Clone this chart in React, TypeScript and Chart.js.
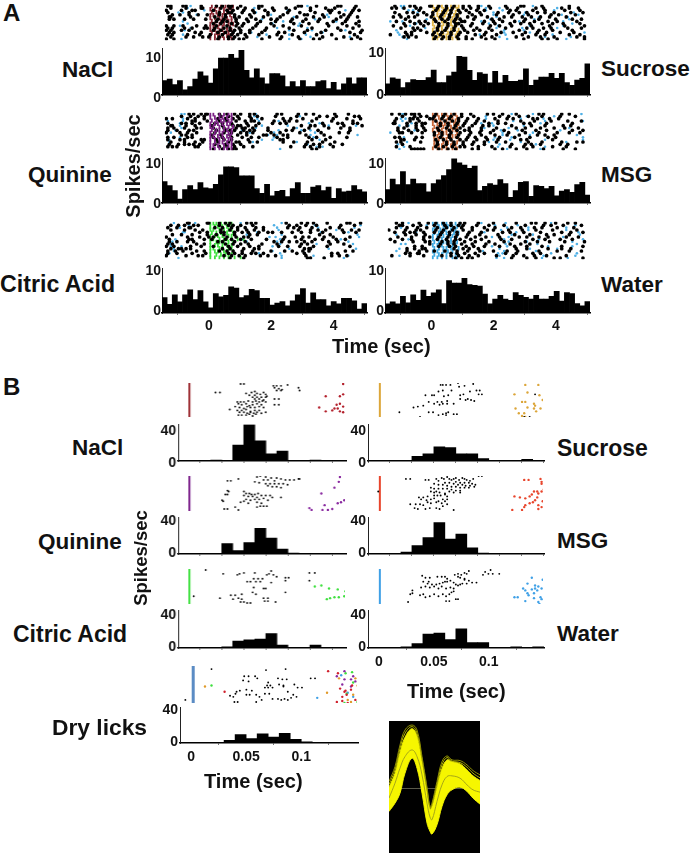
import React, { useEffect, useRef } from "react";
import { Chart, registerables } from "chart.js";

Chart.register(...registerables);

const FONT = "'Liberation Sans', Arial, sans-serif";

// ---------- Panel A histograms (spikes/sec, 40 bins from stimulus -1.5 s to 5 s) ----------
const histNaCl = [3.6,4.0,2.6,3.6,1.3,2.1,4.0,5.8,4.8,3.0,6.6,9.3,9.3,10.2,9.3,11.2,6.2,4.3,6.6,4.3,2.8,5.4,5.4,4.8,2.1,3.4,2.1,3.6,2.1,2.1,3.4,3.6,1.6,3.2,1.3,2.8,4.3,2.8,4.3,4.3];
const histQuinine = [5.4,4.4,3.1,1.0,3.4,4.4,3.4,5.1,3.8,3.6,4.7,7.1,9.1,9.1,8.9,6.8,6.8,6.8,3.6,2.4,4.7,1.8,2.9,3.2,1.6,3.6,5.1,2.4,2.4,4.0,4.4,3.1,4.0,1.2,3.6,2.8,3.0,4.4,3.4,2.8];
const histCitric = [3.9,2.2,4.6,2.8,4.6,5.9,3.4,5.7,2.8,1.3,4.9,4.1,4.5,6.6,6.3,3.9,4.4,6.0,5.7,3.7,3.7,2.0,2.5,2.9,1.8,3.1,4.6,6.2,2.5,5.1,3.4,3.4,1.8,2.9,2.3,3.7,3.7,3.1,1.0,2.4];
const histSucrose = [2.7,4.1,3.8,1.8,3.0,3.7,3.5,3.5,4.2,6.0,3.0,3.0,4.6,5.5,9.3,9.1,5.9,3.5,5.4,5.0,2.9,5.7,2.9,4.7,3.3,3.3,3.6,6.3,2.3,3.6,4.3,4.3,5.2,4.0,5.2,3.0,2.3,3.6,4.0,7.5];
const histMSG = [3.4,6.0,4.6,7.9,4.6,6.0,4.9,4.9,2.8,4.9,5.8,6.9,8.4,11.2,10.1,9.5,8.7,9.3,3.1,4.2,4.9,4.5,5.9,4.9,1.4,3.1,5.2,5.4,1.7,4.4,4.2,3.6,4.2,1.8,3.0,3.4,2.7,4.6,5.2,2.0];
const histWater = [2.3,2.8,2.3,4.2,2.6,4.6,3.2,5.8,4.2,5.1,5.9,2.4,8.2,7.6,7.6,8.8,7.2,7.0,6.8,4.8,2.3,3.5,4.5,3.5,3.2,5.2,4.5,4.0,3.5,4.5,3.5,3.5,4.2,5.5,3.0,5.2,4.9,2.4,1.8,2.9];

// ---------- Panel B histograms (spikes/sec, 10 ms bins from -10 ms) ----------
const peNaCl = [0,0,0,1.2,0,20,46,25.5,9,12.5,0,0,1.2,0,0,0];
const peQuinine = [0,0,0,0,13,4.3,14.5,32.5,20,6.3,1.2,0,0,0,0,0];
const peCitric = [0,0,0,0,1.5,8.6,10.2,11,18,3.5,0,0,3.5,0,0,0];
const peDry = [0,0,0,0,3.5,10.5,5.5,11.4,7.4,12.1,4.7,1.5,0,0,0,0];
const peSucrose = [0,0,0,0,5.9,9,18,16.8,9,9,3.2,0,0,0,2,0];
const peMSG = [0,0,0,2.4,10.6,20.8,39.6,18.8,25,7.9,1.2,0,0,0,0,0];
const peWater = [0,0,0,1.5,5.5,17.3,18.5,10.6,23.9,6.7,6.7,0,0,1.5,0,1.5];

const yTicksA = [0, 10];
const yTicksB = [0, 40];
const xTicksA = [0, 2, 4];
const xTicksBMinor = [0, 0.02, 0.04, 0.06, 0.08, 0.1, 0.12, 0.14];
const xTicksB = [0, 0.05, 0.1];

// order in which the listed trials appear from the top of each raster
const trialOrder = [0,4,2,6,1,5,3,7,8,12,10,14,9,13,11,15];

// ---------- Panel A rasters: one list of spike times (sec) per trial ----------
const rastNaCl = [
[-1.4,-1.3,-.9,-.8,-.3,.2,.4,.6,.7,1.0,1.6,1.7,2.9,3.0,3.5,4.2,4.3,4.8],
[-1.25,-1.0,-.7,-.4,-.1,.3,.5,.8,1.3,1.9,2.4,3.1,3.2,3.7,4.4,4.6],
[-1.45,-.95,-.6,-.5,.1,.55,.75,1.1,1.4,1.8,2.1,2.6,3.3,3.9,4.0,4.7,4.9],
[-1.35,-1.2,-.85,-.55,-.15,.25,.45,.85,1.2,1.5,2.0,2.2,2.7,3.15,3.6,4.15,4.5],
[-1.3,-.8,-.3,-.25,.35,.65,.9,1.15,1.6,2.05,2.5,2.8,3.3,3.8,4.1,4.75],
[-1.35,-1.3,-.65,.15,.5,.8,.95,1.35,1.75,2.3,2.85,3.4,3.75,4.3,4.55,4.85],
[-1.4,-.7,.3,.6,.7,1.05,1.45,1.9,2.55,2.95,3.45,3.95,4.25,4.65],
[.2,.4,.55,.85,1.25,1.65,2.15,2.65,3.05,3.55,4.05,4.45,4.9],
[.1,.35,.7,.9,1.1,1.55,2.0,2.75,3.25,3.85,4.35,4.8],
[-1.35,-1.2,-.5,-.3,.25,.5,.75,1.0,1.3,1.7,2.25,2.45,3.1,3.65,4.6,4.95],
[-1.4,-1.25,-.85,-.6,-.2,-.1,.15,.45,.65,.95,1.4,1.85,2.6,3.35,4.2,4.7],
[-1.3,-.8,-.55,-.25,-.05,.3,.6,.8,1.2,1.95,2.35,2.9,3.7,4.4,4.85],
[-1.45,-1.2,-.9,-.45,-.15,.2,.55,.85,1.05,1.5,2.1,2.4,3.0,3.9,4.5,4.9],
[-1.4,-1.25,-.75,-.35,0,.4,.7,.9,1.15,1.6,2.2,2.7,3.5,4.0,4.75],
[-1.45,-1.3,-.95,-.7,.1,.35,.65,.8,1.0,1.3,1.8,2.75,3.2,3.8,4.3,5.0],
[-1.45,-1.2,.25,.6,.75,.95,1.1,1.7,2.3,2.95,3.4,3.6,4.15,4.65,4.95],
];
const blueNaCl = [[-.65,1.6,3.2],[-.45,2.0,3.85],[-.2,2.55,4.45],[1.7,3.45],[-.75,1.45],[2.75,3.9],[-1.05,-.9,1.5],[-.9,1.25,2.4,4.15],[-.75,2.05,2.95],[1.35,3.7],[-.65,2.2,3.2],[1.55,3.3,4.6],[-1.0,2.9],[-.9,1.85,2.6,3.15],[-.85,2.6,3.35,4.45],[-.95,2.6,3.0]];
const lickNaCl = [[.05,.2,.35,.5,.6,.75],[0,.15,.3,.45,.6,.7],[.05,.2,.3,.45,.55,.7],[0,.1,.25,.4,.5,.65],[0,.15,.3,.4,.55,.7],[.05,.2,.35,.45,.6,.7],[0,.15,.3,.45,.6,.75],[0,.1,.25,.4,.55,.65],[0,.15,.3,.4,.55,.7],[.05,.2,.3,.45,.6,.75],[0,.15,.25,.4,.55,.65],[0,.15,.3,.45,.6,.7]];

const rastQuinine = [
[-.7,-.55,-.3,-.15,-.1,.3,.55,.8,1.0,1.3,1.45,2.2,2.35,2.9,3.15,3.4,4.1,4.55],
[-1.4,-.95,-.8,-.6,-.35,.15,.4,.7,1.2,1.6,2.05,2.3,2.5,3.7,4.2,4.35,4.7,4.85],
[-1.45,-1.25,-.75,-.5,-.2,.25,.5,.75,.95,1.35,1.7,2.4,2.65,3.05,3.5,4.05,4.5,4.95],
[-1.4,-1.2,-.85,-.45,-.3,.1,.45,.85,1.05,1.15,1.4,1.9,2.75,3.25,3.9,4.3,4.6],
[-.95,-.65,-.4,-.2,.35,.6,.9,1.3,1.55,2.15,2.85,3.6,3.85,4.15,4.75,4.9],
[-1.3,-1.25,-.8,-.5,.05,.4,.75,.9,1.0,1.25,1.5,3.0,3.3,3.45,3.75,4.4,5.0],
[-.6,-.5,-.1,.3,.55,.85,1.15,1.35,1.45,2.1,2.45,2.6,2.85,3.35,4.0,4.7],
[-1.4,-1.1,-.7,-.55,.2,.5,.65,.8,1.1,1.3,1.45,1.9,2.5,2.7,3.1,3.55,4.6],
[-1.45,-1.0,-.75,-.45,.15,.45,.7,1.0,1.2,1.4,2.0,2.3,2.95,3.65,4.25,4.55],
[-1.3,-.85,-.5,-.25,.25,.6,.85,.95,1.3,1.55,2.4,2.75,3.2,3.7,4.1],
[-1.4,-1.2,-.75,-.6,.1,.4,.7,1.05,1.35,1.6,2.2,2.55,3.25,3.5,3.95,4.5],
[-1.4,-1.25,-1.1,-.5,-.4,.3,.55,.8,1.1,1.4,2.65,3.1,3.3,3.6,4.05],
[-.95,-.8,-.6,.05,.35,.65,.9,1.2,1.75,1.85,2.1,2.4,2.55,3.15,3.75],
[-1.35,-1.05,-.85,-.7,-.55,-.35,.15,.5,.75,1.0,3.15,3.4,3.6,3.95,4.35],
[-1.4,-1.0,-.85,-.3,-.2,.2,.45,.7,1.25,2.3,2.4,3.35,3.8],
[.1,.4,.6,.75,.85,3.35,3.5],
];
const blueQuinine = [[-.95,-.85,1.5],[-1.0,1.6,3.25,3.6],[-.9,1.55,2.4],[-.95,1.5,2.85],[1.45,2.95],[-1.0,1.7,2.55,3.9,4.8],[-1.4,-.9,1.6,2.25],[-1.15,1.05,2.25,3.0,3.3],[-1.3,1.3,2.1,3.45],[-1.35,1.4,2.85],[-1.0,2.1,3.4],[3.5,3.7],[1.9,2.2,3.3,4.85],[3.2],[-1.35,1.7,2.05,3.6],[2.3]];
const lickQuinine = [[0,.1,.3,.45,.6,.7],[0,.15,.3,.4,.55,.7],[.05,.2,.35,.45,.6,.7],[0,.15,.25,.4,.55,.65],[0,.1,.3,.45,.6,.75],[.05,.2,.3,.45,.55,.7],[0,.15,.3,.4,.6,.7],[0,.1,.25,.4,.55,.65],[0,.15,.3,.45,.6,.7],[0,.15,.3,.4,.55,.7],[0,.1,.25,.45,.6,.7],[0,.15,.3,.45,.55,.7]];

const rastCitric = [
[-.75,-.7,-.1,-.05,.3,.5,.65,1.2,1.35,1.5,2.5,3.0,3.2,3.4,3.85,4.5,4.6,4.95],
[-.35,-.1,.35,.45,.8,1.05,1.25,1.6,1.9,2.05,2.35,2.7,3.0,3.3,3.7,4.4,4.8],
[-1.4,-1.1,-.7,-.65,.15,.4,.7,.9,1.15,1.5,1.75,2.55,2.75,2.95,3.35,3.95,4.25],
[-1.45,-.75,-.35,-.05,.1,.55,.85,1.1,1.25,2.45,2.8,3.05,3.25,3.75,4.05,4.6],
[-1.3,-1.05,-.85,-.55,-.4,.3,.6,.75,1.0,1.4,2.6,2.85,3.15,3.5,4.3,4.75],
[-1.25,-.95,-.6,-.1,.2,.45,.8,1.3,1.55,3.6,3.95],
[-1.3,-.85,-.5,-.25,.35,.65,.9,1.2,1.45,1.75,2.9,3.3,3.55,3.8,4.35,4.65,4.9],
[-1.35,-.7,-.6,-.2,.05,.5,.7,1.0,1.35,1.85,2.4,3.0,3.45,3.7,4.15,4.45],
[-1.35,-1.1,-.75,-.55,.25,.4,.8,1.15,2.1,2.35,2.6,2.85,3.1,3.35,3.9,4.2],
[-1.4,-1.15,-.9,-.45,-.2,.3,.55,.75,1.05,1.4,2.0,2.45,2.7,3.05,3.25,4.45,4.7],
[-1.45,-1.2,-.65,-.3,.1,.6,.9,1.3,1.6,2.25,2.55,2.95,3.4,3.85,4.6],
[-1.45,-.8,-.4,-.25,.45,.7,.95,1.15,1.65,1.9,2.15,3.15,4.0,4.25,4.5],
[-1.4,-1.25,-.45,-.2,.5,.75,1.0,1.25,1.7,2.2,3.0,3.2,3.95,4.4],
[-1.4,-1.1,-.6,-.15,.6,.8,1.05,1.35,1.5,1.75,2.85,3.1,4.0,4.2],
[-1.3,-1.05,-.95,-.8,-.65,.4,.65,1.1,1.45,1.6,3.1,3.25,3.3],
[.65,1.1,3.2,3.3,3.75],
];
const blueCitric = [[-1.2,-.5,1.0,2.35],[-.9,-.85,1.55,3.65,4.55],[-1.0,2.2,3.55,4.75],[1.95,2.15,4.9],[-.7,2.1,3.45,4.95],[1.2,2.35,4.85],[2.25,4.15],[-1.15,1.05,2.3,4.3],[-1.25,1.2,2.2,4.55],[-1.2,2.05],[-1.3,-.95,2.05],[2.35,3.4,4.55],[-1.3,2.3,3.5,4.7],[-1.35,1.6,2.3],[-1.2,2.6,3.9,4.8],[-1.05,2.35,3.75,4.4]];
const lickCitric = [[0,.1,.2,.35,.5,.6,.7],[0,.15,.25,.4,.55,.7],[0,.1,.3,.45,.6,.7],[.05,.2,.35,.45,.55,.75],[0,.15,.25,.4,.6,.7],[0,.1,.3,.45,.55,.7,.9,1.1],[0,.2,.3,.45,.6,.75],[0,.15,.25,.4,.55,.7],[0,.1,.3,.4,.6,.7],[0,.15,.25,.45,.55,.75],[0,.2,.35,.5,.6,.7],[0,.15,.3,.45,.6,.8,1.0]];

const rastSucrose = [
[-1.25,-.75,-.6,-.1,-.05,.2,.45,.7,1.0,1.2,1.5,1.85,2.4,2.9,3.0,3.6,4.5],
[-1.1,-.5,-.2,0,.3,.55,.8,1.3,1.6,2.1,2.65,3.15,3.9,4.15,4.7],
[-.45,.1,.4,.6,.85,1.1,1.45,1.7,2.55,2.75,3.3,3.7,4.35,4.85],
[-.9,.05,.3,.5,.75,.9,1.35,1.95,2.2,3.05,3.5,4.05,4.6,4.9],
[-1.35,-1.2,-.95,-.55,-.4,.15,.45,.65,1.0,1.25,1.5,1.9,2.45,2.8,3.4,3.65,4.25,4.5,4.8],
[-1.3,-1.05,-.8,-.6,-.05,.25,.55,.8,1.15,1.4,1.8,2.35,2.6,2.95,3.25,3.55,3.85,4.4],
[-1.25,-.85,-.65,-.3,0,.35,.6,.9,1.2,1.55,2.15,2.5,2.85,3.1,3.45,3.7,4.0,4.55,4.95],
[-1.2,-.75,-.45,-.25,.1,.4,.7,.95,1.05,1.7,2.0,2.3,2.7,3.0,3.35,3.8,4.1,4.75],
[-.95,-.6,-.4,-.15,.2,.5,.75,.85,1.3,1.65,2.05,2.55,2.9,3.2,3.6,3.95,4.3,4.85],
[-.9,-.7,-.2,.05,.3,.6,.9,1.15,1.75,2.25,2.65,3.05,3.45,3.75,4.2,4.65],
[-1.05,-.65,-.5,.15,.45,.7,1.0,1.45,1.85,2.4,3.1,3.3,3.65,3.9,4.45,4.9],
[-.95,-.8,-.55,.1,.35,.55,.8,1.1,1.6,1.95,2.75,3.15,3.55,4.0,4.75,5.0],
[-1.3,-.9,-.3,.2,.5,.75,.95,1.25,1.9,2.2,2.6,3.25,3.85,4.35,5.0],
[-1.4,-.85,-.7,.0,.25,.6,.85,1.4,1.7,2.1,2.95,3.4,3.7,4.5,4.85],
[-.6,-.4,.15,.4,.7,1.05,1.35,1.55,1.95,2.85,3.5,3.95,4.6],
[.05,.3,.55,.85,1.1,1.3,1.75,2.05,3.0,3.6,3.8,4.1,5.0],
];
const blueSucrose = [[-1.05,-.95,1.6,3.3],[2.0,3.0,4.25,4.8],[-.8,-.65,1.75,2.3,4.0],[-.2,1.9,3.35,4.5],[-1.0,1.75,2.2,4.1],[2.1,3.5,4.45],[-.5,2.0,3.05,4.65],[-1.4,-1.0,1.6,2.85,4.3],[-.55,1.85,3.6,4.6],[-1.15,2.35,3.2,5.0],[-.25,2.1,2.95,4.1],[-1.0,2.2,3.7,4.55],[-.75,2.15,3.2,4.3],[-1.1,1.55,2.4,3.95],[-1.2,2.35,3.0],[-.85,2.45,4.4]];
const lickSucrose = [[0,.15,.3,.45,.6,.75,.85],[.05,.2,.35,.5,.65,.8],[0,.15,.3,.45,.6,.75],[0,.15,.25,.4,.55,.7,.85],[.05,.2,.35,.5,.65,.8],[0,.1,.3,.45,.6,.75],[0,.2,.35,.45,.6,.8],[.05,.15,.3,.5,.65,.75],[0,.2,.3,.45,.6,.85],[0,.15,.35,.5,.65,.8],[.05,.2,.3,.45,.6,.75],[0,.15,.3,.45,.65,.8]];

const rastMSG = [
[-1.35,-1.1,-.9,-.7,-.6,-.45,.1,.4,.7,.95,1.25,1.8,2.0,2.3,2.75,3.5,3.65,4.25,4.5],
[-1.3,-1.25,-.85,-.55,-.35,-.25,.25,.5,.8,1.05,1.4,1.85,2.15,2.4,3.0,3.2,3.75,4.6],
[-1.2,-.75,-.65,-.5,-.1,0,.3,.55,.85,1.15,1.5,2.05,2.45,2.65,3.3,3.45,3.85,4.15],
[-1.15,-.95,-.55,-.3,.15,.45,.7,.9,1.2,1.6,2.1,2.75,3.05,3.55,4.0,4.35,4.8],
[-1.0,-.6,-.4,-.2,.05,.35,.6,.95,1.35,2.2,2.5,2.85,3.15,3.6,4.2,4.7],
[-.85,-.55,-.35,.25,.5,.75,1.0,1.3,1.65,1.85,2.6,3.25,3.7,4.3,4.55],
[-1.25,-.75,-.45,.1,.4,.65,.85,1.1,1.45,1.7,2.15,2.9,3.35,3.9,4.45,4.9],
[-1.15,-.8,-.5,-.25,.2,.55,.8,1.05,1.2,1.6,2.0,2.35,2.95,3.4,3.75,4.6,4.95],
[-1.1,-1.0,-.7,-.35,.05,.3,.6,.9,1.25,1.55,1.9,2.5,3.05,3.5,4.1,4.5,4.85],
[-1.2,-1.05,-.4,.15,.45,.7,1.0,1.35,1.7,2.1,2.4,3.15,3.6,4.25,4.75,4.95],
[-1.25,-1.1,-.55,-.35,.25,.55,.8,1.15,1.4,1.75,2.2,2.7,3.2,3.8,4.05],
[-1.2,-.75,.1,.35,.65,.9,1.05,1.5,1.95,2.55,3.0,3.3,3.95,4.4],
[.05,.3,.55,.85,1.2,1.6,2.05,2.45,2.85,3.45,3.7,4.0],
[-1.0,.15,.45,.7,1.0,1.3,1.7,2.6,3.05,3.25,3.55,4.2,4.45],
[-1.05,-.95,-.6,.1,.35,.6,.9,1.1,1.45,1.8,2.15,2.9,3.1,3.95],
[-.7,-.6,-.5,-.4,-.3,.2,.5,.75,1.3,1.5,2.05,2.3,2.75,3.1,3.65,4.3,4.7],
];
const blueMSG = [[-1.0,-.95,1.8,2.6,3.3,4.9],[-.7,1.6,1.95,3.55],[-1.05,-.9,1.75,2.9,3.65],[-.95,1.7,2.5,4.5],[1.75,3.1,4.0],[-1.1,-.8,2.0,3.0],[-1.0,2.65,3.7,4.95],[-.6,2.25,2.8,4.2],[-1.4,2.3,3.3,4.1],[-.85,1.85,2.9,4.4],[-.95,2.05,2.6,4.95],[-.95,2.15,3.7],[2.3,3.2,4.75],[-1.15,2.2,3.4],[2.0,2.55,3.7,4.95],[-1.1,2.45,3.55]];
const lickMSG = [[0,.15,.3,.45,.6,.75],[.05,.2,.35,.5,.65,.8],[0,.1,.25,.45,.6,.75],[0,.15,.3,.4,.55,.7,.85],[.05,.2,.35,.5,.6,.8],[0,.15,.3,.45,.65,.75],[.05,.2,.35,.45,.6,.8],[.05,.15,.3,.5,.65,.75],[.05,.2,.35,.45,.6,.85],[.05,.15,.35,.5,.65,.8],[.05,.2,.3,.45,.6,.75],[0,.15,.3,.45,.65,.8]];

const rastWater = [
[-1.2,-1.0,-.45,-.15,.1,.35,.6,.9,1.05,1.5,2.0,2.75,3.25,3.4,3.7,4.05,4.45,4.7],
[-1.25,-.95,-.75,-.6,-.3,.05,.3,.55,.8,1.2,1.6,2.3,2.55,3.0,3.55,4.25,4.55,4.95],
[-1.2,-.85,-.5,-.2,.15,.45,.7,.95,1.3,1.7,2.05,2.6,2.9,3.35,3.6,4.1,4.65],
[-1.15,-.7,-.3,-.1,.2,.5,.75,1.1,1.4,1.75,2.2,2.85,3.1,3.5,3.8,4.4,4.8],
[-1.1,-1.0,-.65,-.4,.05,.4,.6,.85,1.0,1.45,1.85,2.35,3.05,3.65,3.9,4.3,4.9],
[-.9,-.55,-.25,.25,.55,.8,1.15,1.55,2.15,2.7,3.2,3.75,4.0,4.5],
[-1.45,-.9,-.55,-.4,.1,.35,.65,1.0,1.3,1.8,2.0,2.5,2.95,3.4,3.95,4.75],
[-1.4,-1.0,-.7,-.3,.15,.45,.75,.9,1.25,1.6,2.25,2.6,3.3,3.7,4.2,4.6],
[-1.25,-.65,-.25,-.1,.3,.5,.7,1.05,1.4,1.85,2.35,3.05,3.45,3.85,4.35,5.0],
[-.85,-.45,-.2,.05,.4,.8,1.15,1.55,2.0,2.45,2.8,3.5,4.1,4.5,4.9],
[-.6,-.35,.2,.55,.75,1.1,1.35,1.7,2.2,2.7,3.1,3.6,4.25,4.95],
[-1.35,-.75,-.3,.3,.6,.85,1.2,1.5,2.1,2.65,3.0,3.35,3.75,4.4],
[-.1,.25,.5,.7,.95,1.3,1.75,2.05,2.55,2.9,3.2],
[-.9,-.75,-.5,-.45,.6,.8,1.05,1.4,1.7,2.4,2.75,3.3,3.55],
[-.85,-.6,-.35,-.25,.7,1.0,1.2,1.5,2.75,3.1,3.8,4.25,4.55],
[.75,.95,1.15,1.3,2.6,3.1,3.4,4.0,4.2,4.95],
];
const blueWater = [[-1.0,-.8,1.6,2.4,3.9],[-.55,1.7,2.75,4.8],[-1.05,2.45,3.15,4.4],[1.95,2.5,4.3],[-.2,2.05,2.8,4.7],[-1.2,2.6,3.3,4.85],[2.25,3.15,4.4],[-.8,2.35,3.5,4.95],[2.5,3.1,4.6],[-1.2,1.65,2.35,3.4],[1.95,2.45,3.8,4.6],[-1.1,2.2,3.65,4.7],[-1.05,-.9,2.4,3.45,4.75],[2.15,2.3,3.9,4.75],[-1.1,2.2,3.2,4.1],[2.1,2.35,3.6,4.45]];
const lickWater = [[0,.15,.3,.45,.6,.75,.9],[.05,.2,.35,.5,.65,.8],[0,.1,.25,.4,.6,.75],[.05,.2,.3,.45,.55,.7,.85],[0,.15,.35,.5,.65,.8],[0,.15,.3,.45,.6,.75],[.05,.2,.35,.45,.6,.8],[0,.15,.3,.5,.65,.75],[.05,.2,.35,.45,.6,.85],[0,.15,.35,.5,.65,.8],[.05,.2,.3,.45,.6,.75],[0,.15,.3,.45,.65,.8]];

// ---------- Panel B rasters: [time in ms, lick number] ----------
const bNaClBlack = [[47,1],[50,1],[24,10],[28,10],[77,3],[80,3],[84,3],[90,2],[78,5],[82,6],[85,7],[80,8],[84,8],[100,5],[101,8],[78,17],[82,17],[78,23],[82,23],[57,10],[60,9],[52,11],[55,13],[60,13],[62,11],[65,12],[68,10],[70,12],[58,15],[62,15],[66,15],[70,15],[60,17],[64,17],[68,18],[71,14],[44,20],[47,20],[50,20],[54,19],[58,20],[61,19],[64,20],[67,19],[70,20],[45,22],[48,23],[52,22],[55,24],[58,23],[62,22],[66,23],[42,25],[46,26],[50,27],[53,25],[56,26],[60,26],[64,25],[68,26],[37,28],[44,29],[48,29],[52,28],[56,30],[60,29],[64,29],[46,31],[50,31],[53,32],[56,31],[59,32],[62,31],[66,32],[70,31],[45,34],[48,34],[52,34],[55,33],[58,35],[61,33]];
const bNaClColor = [[141,1],[147,2],[147,5],[144,8],[149,11],[141,12],[138,14],[125,14],[144,21],[147,20],[148,21],[138,22],[135,23],[133,27],[141,25],[147,26],[131,29],[138,30],[125,30],[119,26],[141,31],[147,31],[149,29],[136,27],[144,28]];
const bQuinineBlack = [[35,5],[38,5],[45,3],[62,1],[65,0],[70,1],[75,2],[80,2],[68,4],[72,4],[78,5],[84,3],[88,4],[92,4],[96,4],[60,6],[64,7],[70,8],[74,8],[78,8],[82,8],[86,8],[90,9],[72,10],[76,11],[80,11],[84,12],[100,3],[101,3],[35,15],[36,16],[33,19],[35,19],[30,25],[31,26],[32,34],[35,34],[42,32],[45,35],[50,16],[52,18],[55,18],[57,19],[60,19],[63,18],[50,20],[54,21],[58,21],[62,22],[66,20],[70,20],[74,20],[52,24],[56,25],[60,24],[64,24],[68,23],[72,25],[76,22],[84,22],[54,28],[62,27],[66,28],[62,32],[65,31],[68,31],[71,31],[47,27],[50,26]];
const bQuinineColor = [[110,33],[112,35],[122,35],[127,35],[131,34],[124,30],[136,28],[139,27],[142,25],[148,25],[149,29],[121,18],[145,17],[146,20],[147,22],[133,12],[138,1],[145,1],[150,2],[137,6]];
const bCitricBlack = [[15,1],[31,5],[44,6],[46,5],[50,4],[60,4],[71,6],[73,5],[75,2],[77,6],[80,8],[59,10],[63,10],[67,10],[53,13],[56,13],[61,13],[65,13],[75,14],[88,9],[91,9],[88,12],[59,19],[68,20],[70,20],[4,28],[28,30],[38,27],[42,27],[48,26],[40,31],[45,30],[48,31],[47,34],[50,34],[53,35],[56,35],[58,24],[61,26],[68,30],[72,30],[69,33],[72,33],[79,34],[88,24],[110,4],[115,4],[110,12]];
const bCitricColor = [[146,2],[149,6],[115,18],[121,17],[128,20],[136,21],[148,19],[143,23],[145,25],[142,28],[137,29],[133,29],[129,30],[126,31]];
const bDryBlack = [[-6,33],[18,3],[68,4],[86,3],[48,10],[52,10],[47,14],[52,15],[58,10],[60,12],[79,12],[83,13],[87,13],[80,18],[84,19],[109,12],[113,12],[70,16],[69,19],[72,19],[67,21],[70,21],[74,21],[94,18],[97,21],[101,21],[41,25],[44,24],[50,23],[55,24],[35,29],[38,30],[40,27],[59,28],[62,30],[67,27],[71,27],[84,20],[88,25],[93,28],[96,30],[39,35],[42,35],[59,35],[64,33],[74,32],[79,32],[82,33],[85,32],[88,33],[91,31],[53,28],[50,28]];
const bDryRed = [[125,5],[134,7],[136,22],[140,25],[147,19],[138,34],[143,36],[150,33],[138,30],[142,28],[146,23],[133,35],[141,24],[30,25]];
const bDryPurple = [[140,5],[148,10],[146,13],[133,10],[140,13],[150,15],[138,18],[146,20]];
const bDryOrange = [[135,12],[150,12],[152,19],[148,28],[143,33],[146,35],[124,26],[12,20]];
const bDryGreen = [[147,6],[141,7],[148,16],[142,27],[152,35],[18,19],[140,36]];
const bDryBlue = [[137,9],[143,26],[115,31],[148,30]];
const bSucroseBlack = [[18,31],[37,36],[31,26],[35,25],[40,24],[42,13],[48,13],[50,13],[45,20],[50,22],[53,20],[57,20],[62,19],[45,31],[49,31],[54,34],[58,33],[61,34],[63,31],[68,33],[71,33],[56,2],[58,2],[61,2],[65,2],[72,0],[73,4],[78,3],[86,1],[54,9],[58,8],[66,8],[59,14],[63,13],[74,13],[77,12],[83,9],[89,8],[92,8],[91,12],[94,12],[68,22],[74,17],[79,18],[81,17],[84,18],[87,19],[55,23],[58,22],[62,22],[61,32],[133,36],[138,36],[143,12]];
const bSucroseColor = [[124,12],[134,2],[146,2],[136,10],[147,13],[150,18],[131,20],[134,20],[142,22],[143,24],[136,26],[142,27],[125,27],[144,30],[148,27],[128,32],[133,32],[131,35],[134,36]];
const bMSGBlack = [[-1.5,16],[24,3],[28,3],[42,4],[45,4],[52,3],[54,5],[57,2],[59,3],[62,1],[64,3],[66,4],[68,3],[70,2],[73,4],[76,2],[78,3],[80,4],[83,5],[86,3],[91,0],[94,0],[70,6],[74,7],[78,7],[82,7],[85,8],[88,9],[60,7],[64,7],[68,8],[72,9],[76,9],[79,10],[83,10],[87,11],[50,8],[54,9],[58,9],[62,10],[66,11],[70,11],[74,12],[78,12],[82,12],[47,12],[50,13],[54,13],[58,13],[62,13],[66,14],[70,15],[74,15],[47,16],[50,17],[52,16],[55,17],[60,18],[64,16],[68,17],[74,17],[36,22],[40,22],[44,21],[50,20],[53,20],[56,20],[60,19],[62,21],[38,24],[43,25],[47,24],[50,23],[54,26],[58,24],[62,24],[28,29],[33,29],[37,29],[40,30],[44,27],[47,28],[52,27],[57,28],[60,26],[32,33],[35,34],[42,34],[46,33],[52,33],[55,34],[58,31],[62,29],[68,35]];
const bMSGColor = [[122,35],[131,35],[133,32],[134,30],[138,28],[141,27],[124,21],[129,22],[134,23],[138,21],[140,19],[142,16],[145,16],[146,18],[149,16],[151,14],[149,8],[148,3],[149,6],[133,4],[137,4],[145,22],[146,30],[150,26],[149,32],[146,34],[143,25]];
const bWaterBlack = [[39,7],[42,9],[46,9],[53,8],[57,8],[60,8],[62,10],[40,13],[45,13],[60,13],[65,12],[68,14],[44,15],[48,16],[52,16],[55,15],[58,14],[62,13],[70,16],[74,16],[38,19],[42,18],[46,19],[50,18],[54,20],[57,18],[61,20],[65,19],[68,20],[72,17],[76,15],[80,15],[78,11],[72,8],[75,6],[78,4],[80,5],[82,2],[72,5],[69,6],[74,9],[78,10],[82,12],[85,14],[89,14],[95,6],[97,3],[100,5],[102,1],[104,5],[110,5],[28,26],[30,25],[30,22],[37,27],[40,26],[42,29],[46,28],[50,26],[54,28],[58,26],[61,28],[64,26],[66,24],[68,23],[61,33],[64,33],[70,31],[72,31],[26,34]];
const bWaterColor = [[124,29],[127,29],[132,20],[134,22],[136,15],[140,9],[150,11],[143,17],[146,18],[149,20],[145,22],[142,25],[137,27],[134,33],[142,30],[148,29],[149,31],[146,34],[147,36],[136,25],[140,21],[143,20]];
const lickBar = [0, 36];

// ---------- Waveform ----------
const waveT = [0,6,11,16,23,28,33,38,41,43,48,53,58,63,71,78,84,91];
const waveUpper = [232,190,128,82,56,78,155,245,298,290,232,176,150,155,162,180,198,212];
const waveLower = [305,280,250,190,145,175,250,340,365,373,345,290,255,240,232,245,265,283];
const waveMean = [265,220,175,140,120,140,195,280,322,330,275,225,200,198,205,225,240,247];
const waveOuter = [215,170,105,60,45,60,140,232,290,280,215,155,138,150,152,165,182,195];
const waveStrand = [224,180,116,70,50,70,148,238,294,286,224,165,143,154,158,172,190,204];
const waveZero = [236, 236];

const blackDot = "#000";
const blueDot = "#4fb0e6";

const rowsToPoints = (rows: number[][]) => rows.flatMap((r, i) => r.map((x) => ({ x, y: i })));
const orderedPoints = (rows: number[][]) => trialOrder.flatMap((t, i) => rows[t].map((x) => ({ x, y: i })));
const pairsToPoints = (pairs: number[][]) => pairs.map(([x, y]) => ({ x, y }));

const LW = 34, BH = 24, PT = 8, PR = 4;

function histConfig(values: number[], start: number, bin: number, min: number, max: number, top: number, yTicks: number[], xTicks: number[], xLabels: boolean, labelOffset: number, xPad: number, fmt: (v: number) => string, yPad: number) {
  return {
    type: "bar",
    data: {
      datasets: [{
        data: values.map((y, i) => ({ x: start + (i + 0.5) * bin, y })),
        backgroundColor: "#000", borderWidth: 0, barPercentage: 1, categoryPercentage: 1,
      }],
    },
    options: {
      responsive: false, animation: false,
      layout: { padding: { top: PT, right: PR, left: 0, bottom: 0 } },
      plugins: { legend: { display: false }, tooltip: { enabled: false } },
      scales: {
        x: {
          type: "linear", min, max, offset: false,
          grid: { display: true, drawOnChartArea: false, drawTicks: true, tickLength: 2, color: "#777" },
          border: { display: true, color: "#000", width: 1.5 },
          afterBuildTicks: (s: any) => { s.ticks = xTicks.map((value) => ({ value })); },
          afterFit: (s: any) => { s.height = BH; },
          ticks: {
            autoSkip: false, maxRotation: 0, minRotation: 0, padding: xPad, color: "#111",
            font: { family: FONT, weight: "bold", size: 14 },
            callback: (v: any) => (xLabels ? fmt(Number(v)) : ""),
          },
        },
        y: {
          min: 0, max: top,
          grid: { display: false, drawTicks: false },
          border: { display: true, color: "#222", width: 1 },
          afterBuildTicks: (s: any) => { s.ticks = yTicks.map((value) => ({ value })); },
          afterFit: (s: any) => { s.width = LW; },
          ticks: {
            autoSkip: false, padding: yPad, color: "#111", labelOffset,
            font: { family: FONT, weight: "bold", size: 14 },
          },
        },
      },
    },
  };
}

function scatterConfig(datasets: any[], xMin: number, xMax: number, yMin: number, yMax: number) {
  return {
    type: "scatter",
    data: { datasets },
    options: {
      responsive: false, animation: false,
      layout: { padding: 3 },
      plugins: { legend: { display: false }, tooltip: { enabled: false } },
      scales: {
        x: { type: "linear", display: false, min: xMin, max: xMax },
        y: { type: "linear", display: false, min: yMin, max: yMax, reverse: true },
      },
      elements: { point: { borderWidth: 0 } },
    },
  };
}

function ChartBox({ left, top, width, height, config, bg }: any) {
  const ref = useRef<HTMLCanvasElement>(null);
  useEffect(() => {
    const chart = new Chart(ref.current as any, config);
    return () => chart.destroy();
  }, []);
  return <canvas ref={ref} width={width} height={height} style={{ position: "absolute", left, top, width, height, background: bg }} />;
}

function HistA({ values, axisLeft, axisRight, axisTop, base, min, max, top, labels, labelOffset }: any) {
  const w = axisRight - axisLeft + LW + PR;
  const h = base - axisTop + BH + PT;
  const bin = (max - min) / 40;
  return <ChartBox left={axisLeft - LW} top={axisTop - PT} width={w} height={h}
    config={histConfig(values, min, bin, min, max, top, yTicksA, xTicksA, labels, labelOffset, 3, (v) => String(v), 1)} />;
}

function HistB({ values, axisLeft, axisRight, axisTop, base, min, max, top, labels, labelOffset }: any) {
  const w = axisRight - axisLeft + LW + PR;
  const h = base - axisTop + BH + PT;
  return <ChartBox left={axisLeft - LW} top={axisTop - PT} width={w} height={h}
    config={histConfig(values, -0.01, 0.01, min, max, top, yTicksB, labels ? xTicksB : xTicksBMinor, labels, labelOffset, 4, (v) => String(v), 2)} />;
}

function RasterA({ black, blue, lick, color, left, right, top, bottom, min, max, lickOnTop }: any) {
  const pad = 3;
  const blackSet = { data: orderedPoints(black), pointRadius: 1.85, pointBackgroundColor: blackDot, pointBorderWidth: 0 };
  const lickSet = { data: rowsToPoints(lick).map((p) => ({ x: p.x, y: (p.y + 0.5) * 16 / 12 - 0.5 })), pointStyle: "line", rotation: 90, pointRadius: 2.2, pointBorderColor: color, pointBorderWidth: 1.8 };
  const blueSet = { data: orderedPoints(blue), pointRadius: 1.3, pointBackgroundColor: blueDot, pointBorderWidth: 0 };
  const datasets = lickOnTop ? [lickSet, blackSet, blueSet] : [blackSet, lickSet, blueSet];
  return <ChartBox left={left - pad} top={top - pad} width={right - left + 2 * pad} height={bottom - top + 2 * pad}
    config={scatterConfig(datasets, min, max, -0.5, 15.5)} />;
}

function RasterB({ black, colored, barColor, barWidth = 2, barAt = 0, left, right, top, bottom, min, max }: any) {
  const pad = 3;
  const datasets = [
    { data: pairsToPoints(black), pointRadius: 0.95, pointBackgroundColor: "#000", pointBorderWidth: 0 },
    ...colored.map(([pts, c]: any) => ({ data: pairsToPoints(pts), pointRadius: 1.2, pointBackgroundColor: c, pointBorderWidth: 0 })),
    { data: lickBar.map((y) => ({ x: barAt, y })), showLine: true, borderColor: barColor, borderWidth: barWidth, pointRadius: 0 },
  ];
  return <ChartBox left={left - pad} top={top - pad} width={right - left + 2 * pad} height={bottom - top + 2 * pad}
    config={scatterConfig(datasets, min, max, 0, 36)} />;
}

function Wave() {
  const mk = (ys: number[]) => ys.map((y, i) => ({ x: waveT[i], y }));
  const config = {
    type: "scatter",
    data: {
      datasets: [
        { data: mk(waveMean), showLine: true, tension: 0.4, borderColor: "#a6a618", borderWidth: 1, pointRadius: 0 },
        { data: mk(waveOuter), showLine: true, tension: 0.4, borderColor: "#8f8f00", borderWidth: 1, pointRadius: 0 },
        { data: mk(waveStrand), showLine: true, tension: 0.4, borderColor: "#b8b800", borderWidth: 1, pointRadius: 0 },
        { data: mk(waveUpper), showLine: true, tension: 0.4, borderColor: "#e8e800", borderWidth: 1, pointRadius: 0, fill: "+1", backgroundColor: "#f6f600" },
        { data: mk(waveLower), showLine: true, tension: 0.4, borderColor: "#e6e600", borderWidth: 1, pointRadius: 0 },
        { data: [{ x: waveT[0], y: waveZero[0] }, { x: waveT[waveT.length - 1], y: waveZero[1] }], showLine: true, borderColor: "#5a5a4a", borderWidth: 1, pointRadius: 0 },
      ],
    },
    options: {
      responsive: false, animation: false, layout: { padding: 0 },
      plugins: { legend: { display: false }, tooltip: { enabled: false } },
      scales: {
        x: { type: "linear", display: false, min: 0, max: 91 },
        y: { type: "linear", display: false, min: 33, max: 430, reverse: true },
      },
    },
  };
  return <ChartBox left={389} top={721} width={91} height={132} config={config} bg="#000" />;
}

const texts = [
  { t: "A", x: 3, y: 13, s: 24 },
  { t: "NaCl", x: 62, y: 70, s: 22.5 },
  { t: "Quinine", x: 28, y: 175, s: 22.5 },
  { t: "Citric Acid", x: 0, y: 285, s: 23.2 },
  { t: "Sucrose", x: 601, y: 69, s: 22.5 },
  { t: "MSG", x: 601, y: 175, s: 22.5 },
  { t: "Water", x: 601, y: 285, s: 22.5 },
  { t: "Time (sec)", x: 332, y: 346, s: 20 },
  { t: "B", x: 3, y: 387, s: 24 },
  { t: "NaCl", x: 72, y: 448, s: 22.5 },
  { t: "Quinine", x: 38, y: 542, s: 22.5 },
  { t: "Citric Acid", x: 13, y: 634, s: 23 },
  { t: "Dry licks", x: 52, y: 727, s: 22.8 },
  { t: "Sucrose", x: 557, y: 448, s: 23 },
  { t: "MSG", x: 557, y: 541, s: 22.5 },
  { t: "Water", x: 557, y: 634, s: 22.5 },
  { t: "Time (sec)", x: 204, y: 781, s: 20 },
  { t: "Time (sec)", x: 407, y: 691, s: 20 },
];
const rotated = [
  { t: "Spikes/sec", x: 133, y: 166, s: 20 },
  { t: "Spikes/sec", x: 141, y: 558, s: 18.5 },
];

const textBase: any = { position: "absolute", fontFamily: FONT, fontWeight: "bold", color: "#111", lineHeight: 1, whiteSpace: "nowrap" };

export default function App() {
  const La = { min: -1.5, max: 5.07, axisLeft: 162, axisRight: 367 };
  const Ra = { min: -1.484, max: 5.09, axisLeft: 385, axisRight: 590 };
  const Lb = { min: -0.0095, max: 0.1427, axisLeft: 178.3, axisRight: 345.7 };
  const Rb = { min: -0.01, max: 0.1503, axisLeft: 368, axisRight: 544.3 };
  const Db = { min: -0.01, max: 0.1515, axisLeft: 180, axisRight: 358 };
  const ms = (o: any) => ({ min: o.min * 1000, max: o.max * 1000, left: o.axisLeft, right: o.axisRight });
  const ra = (o: any) => ({ min: o.min, max: o.max, left: o.axisLeft, right: o.axisRight });
  return (
    <div style={{ position: "absolute", left: 0, top: 0, width: 692, height: 853, background: "#fff", overflow: "hidden" }}>
      <RasterA {...ra(La)} top={2} bottom={43} black={rastNaCl} blue={blueNaCl} lick={lickNaCl} color="#8c2a35" />
      <RasterA {...ra(La)} top={110} bottom={153} black={rastQuinine} blue={blueQuinine} lick={lickQuinine} color="#7b2185" lickOnTop />
      <RasterA {...ra(La)} top={219} bottom={262} black={rastCitric} blue={blueCitric} lick={lickCitric} color="#3fe03f" />
      <RasterA {...ra(Ra)} top={2} bottom={43} black={rastSucrose} blue={blueSucrose} lick={lickSucrose} color="#e2b84a" />
      <RasterA {...ra(Ra)} top={110} bottom={153} black={rastMSG} blue={blueMSG} lick={lickMSG} color="#c8683a" />
      <RasterA {...ra(Ra)} top={219} bottom={262} black={rastWater} blue={blueWater} lick={lickWater} color="#3fa9e0" />

      <HistA {...La} values={histNaCl} axisTop={47} base={95} top={11.7} labelOffset={3} />
      <HistA {...La} values={histQuinine} axisTop={157} base={203} top={11.2} labelOffset={1} />
      <HistA {...La} values={histCitric} axisTop={267} base={313} top={11.3} labelOffset={-2} labels />
      <HistA {...Ra} values={histSucrose} axisTop={47} base={95} top={11.2} labelOffset={0} />
      <HistA {...Ra} values={histMSG} axisTop={157} base={203} top={11.2} labelOffset={1} />
      <HistA {...Ra} values={histWater} axisTop={267} base={313} top={11.3} labelOffset={-2} labels />

      <RasterB {...ms(Lb)} top={382} bottom={418} black={bNaClBlack} colored={[[bNaClColor, "#b3202c"]]} barColor="#9b2a30" />
      <RasterB {...ms(Lb)} top={475} bottom={512} black={bQuinineBlack} colored={[[bQuinineColor, "#8a2aa0"]]} barColor="#7b1f8a" />
      <RasterB {...ms(Lb)} top={568} bottom={605} black={bCitricBlack} colored={[[bCitricColor, "#3ee03e"]]} barColor="#3ee03e" />
      <RasterB {...ms(Db)} top={665} bottom={704} black={bDryBlack} barColor="#5b8cc4" barWidth={3} barAt={1.2}
        colored={[[bDryRed, "#d0202c"], [bDryPurple, "#8a2aa0"], [bDryOrange, "#e09a2a"], [bDryGreen, "#3ee03e"], [bDryBlue, "#3fa0e6"]]} />
      <RasterB {...ms(Rb)} top={382} bottom={418} black={bSucroseBlack} colored={[[bSucroseColor, "#dca63a"]]} barColor="#dca63a" />
      <RasterB {...ms(Rb)} top={475} bottom={512} black={bMSGBlack} colored={[[bMSGColor, "#e8452c"]]} barColor="#e8452c" />
      <RasterB {...ms(Rb)} top={568} bottom={605} black={bWaterBlack} colored={[[bWaterColor, "#3fa0e6"]]} barColor="#3fa0e6" />

      <HistB {...Lb} values={peNaCl} axisTop={422} base={461} top={46.2} labelOffset={2} />
      <HistB {...Lb} values={peQuinine} axisTop={515} base={554} top={46.2} labelOffset={-1} />
      <HistB {...Lb} values={peCitric} axisTop={608} base={648} top={46.7} labelOffset={-1} />
      <HistB {...Db} values={peDry} axisTop={705} base={743} top={44.7} labelOffset={-1} labels />
      <HistB {...Rb} values={peSucrose} axisTop={422} base={461} top={46.2} labelOffset={2} />
      <HistB {...Rb} values={peMSG} axisTop={515} base={554} top={46.2} labelOffset={-1} />
      <HistB {...Rb} values={peWater} axisTop={608} base={648} top={46.7} labelOffset={-1} labels />

      <Wave />

      {texts.map((d, i) => (
        <div key={i} style={{ ...textBase, left: d.x, top: d.y, fontSize: d.s, transform: "translateY(-50%)" }}>{d.t}</div>
      ))}
      {rotated.map((d, i) => (
        <div key={i} style={{ ...textBase, left: d.x, top: d.y, fontSize: d.s, transform: "translate(-50%,-50%) rotate(-90deg)" }}>{d.t}</div>
      ))}
    </div>
  );
}
